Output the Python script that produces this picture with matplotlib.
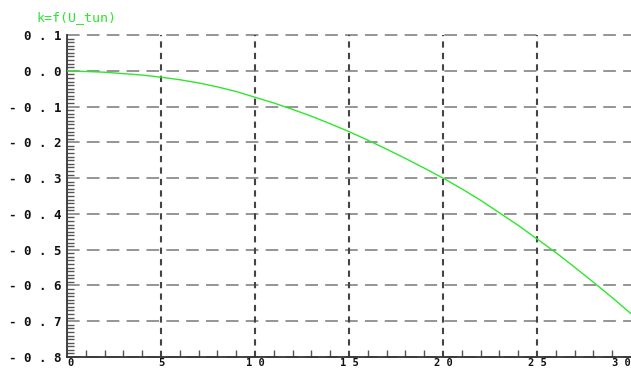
import matplotlib
matplotlib.use("Agg")
import matplotlib.pyplot as plt
from matplotlib.ticker import MultipleLocator, FixedLocator

# Curve samples k(U_tun)
u_tun = [0, 2, 4, 5, 6, 7, 8, 9, 10, 11, 12, 13, 14, 15, 16, 17, 18, 19, 20,
         21, 22, 23, 24, 25, 26, 27, 28, 29, 30]
k_val = [0.0, -0.004, -0.012, -0.018, -0.025, -0.034, -0.045, -0.058, -0.074,
         -0.090, -0.108, -0.127, -0.148, -0.170, -0.194, -0.219, -0.245, -0.272,
         -0.300, -0.330, -0.362, -0.397, -0.432, -0.470, -0.508, -0.549, -0.591,
         -0.634, -0.679]

x_ticks = [0, 5, 10, 15, 20, 25, 30]
x_tick_labels = ["0", "5", "10", "15", "20", "25", "30"]
y_ticks = [0.1, 0.0, -0.1, -0.2, -0.3, -0.4, -0.5, -0.6, -0.7, -0.8]
y_tick_labels = ["0.1", "0.0", "-0.1", "-0.2", "-0.3", "-0.4", "-0.5", "-0.6",
                 "-0.7", "-0.8"]
title_text = "k=f(U_tun)"

W, H = 631, 368
fig = plt.figure(figsize=(W / 100, H / 100), dpi=100)
ax = fig.add_axes([67 / W, (H - 357) / H, (W - 67) / W, (357 - 35) / H])

ax.plot(u_tun, k_val, color="#2ee62e", lw=1.0, zorder=5)

ax.set_xlim(0, 30)
ax.set_ylim(-0.8, 0.1)

# grid lines
for yv in y_ticks:
    ax.axhline(yv, color="#8c8c8c", lw=1.3, dashes=(7, 4), zorder=1, clip_on=False)
for xv in x_ticks[1:-1]:
    ax.axvline(xv, color="#444444", lw=1.5, dashes=(3, 2.5), zorder=1)

for s in ("top", "right"):
    ax.spines[s].set_visible(False)
for s in ("left", "bottom"):
    ax.spines[s].set_color("#333333")
    ax.spines[s].set_linewidth(1.3)


def spaced(s):
    return " ".join(s)


mono = "DejaVu Sans Mono"

ax.yaxis.set_major_locator(FixedLocator(y_ticks))
ax.yaxis.set_minor_locator(MultipleLocator(0.01))
ax.set_yticks(y_ticks)
ax.set_yticklabels([spaced(t) for t in y_tick_labels],
                   family=mono, fontweight="bold", fontsize=9, color="#111111")
ax.tick_params(axis="y", which="major", length=0, pad=4)
ax.tick_params(axis="y", which="minor", direction="in", length=5, width=1.0, color="#555555")

ax.xaxis.set_major_locator(FixedLocator(x_ticks))
ax.xaxis.set_minor_locator(MultipleLocator(1))
ax.set_xticks(x_ticks)
labels = ax.set_xticklabels([spaced(t) for t in x_tick_labels],
                            family=mono, fontweight="bold", fontsize=7.5, color="#111111")
labels[0].set_ha("left")
labels[-1].set_ha("right")
ax.tick_params(axis="x", which="major", length=0, pad=0.5)
ax.tick_params(axis="x", which="minor", direction="in", length=5, width=1.0, color="#555555")

fig.text(37 / W, 1 - 18 / H, title_text, family=mono, fontsize=9.5, color="#2ee62e",
         va="center", ha="left")

fig.savefig("out.png", dpi=100)
